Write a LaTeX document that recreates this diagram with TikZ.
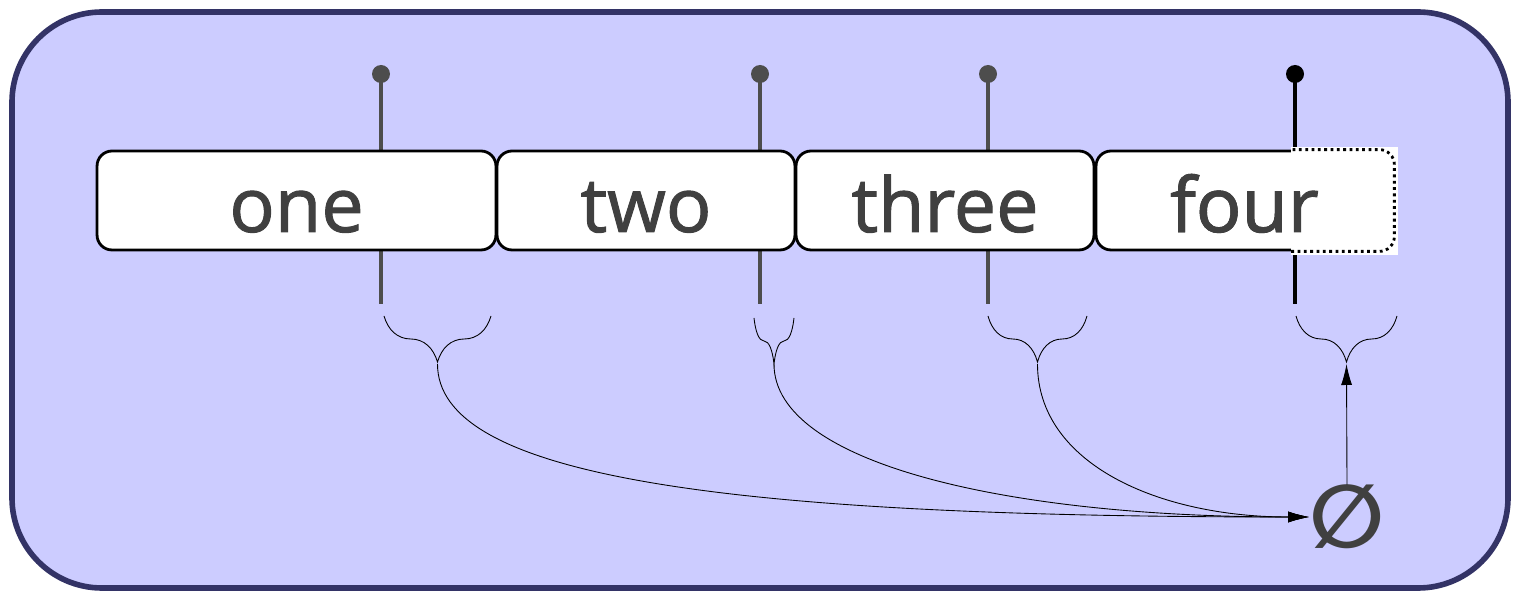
\documentclass[tikz,border=0pt]{standalone}
\usepackage{fontspec}
\setmainfont[FakeBold=1.3]{Open Sans}
\newfontfamily\symfont{DejaVu Sans Bold}
\usetikzlibrary{decorations.pathreplacing,arrows.meta}
\definecolor{frame}{HTML}{333366}
\definecolor{bgfill}{HTML}{CCCCFF}
\definecolor{txt}{HTML}{404040}
\definecolor{stemgray}{HTML}{4D4D4D}
\tikzset{
  cell/.style={draw=black, line width=1.6pt, fill=white, rounded corners=0.3cm,
    minimum height=1.98cm, inner sep=0pt, text=txt, text height=1.26cm, text depth=0pt,
    font=\fontsize{43}{48}\selectfont},
  stemline/.style={line width=2pt},
  bracepath/.style={decorate, decoration={brace, mirror, amplitude=0.92cm}, line width=0.5pt},
  conn/.style={line width=0.5pt, -{Latex[length=0.42cm,width=0.22cm]}}
}
\begin{document}
\begin{tikzpicture}[x=0.02cm,y=-0.02cm]
\useasboundingbox (0,0) rectangle (1516,594);
\draw[frame, fill=bgfill, line width=3.2pt, rounded corners=1.8cm] (12,12) rectangle (1508,588);
% stems
\foreach \x/\c in {381/stemgray,760/stemgray,988/stemgray,1295/black}{
  \draw[stemline,\c] (\x,74) -- (\x,304);
  \fill[\c] (\x,74) circle (0.18cm);
}
% boxes
\node[cell, minimum width=7.98cm] (one) at (296.5,200.5) {one};
\node[cell, minimum width=5.96cm] (two) at (646,200.5) {two};
\node[cell, minimum width=5.96cm] (three) at (945,200.5) {three};
\node[cell, minimum width=5.94cm] (four) at (1244.5,200.5) {four};
\fill[white] (1291,147) rectangle (1398,255);
\begin{scope}
  \clip (1291,140) rectangle (1400,260);
  \draw[dotted, line width=1.6pt, rounded corners=0.3cm] (four.south west) rectangle (four.north east);
\end{scope}
\node[text=txt, inner sep=0pt, text height=1.26cm, text depth=0pt, font=\fontsize{43}{48}\selectfont] at (four.center) {four};
% braces
\draw[bracepath] (384,316) -- (491,316);
\draw[bracepath] (754,318) -- (794,318);
\draw[bracepath] (988,316) -- (1087,316);
\draw[bracepath] (1296,316) -- (1397,316);
\coordinate (t1) at (437.5,364);
\coordinate (t2) at (774,364);
\coordinate (t3) at (1037.5,364);
\coordinate (t4) at (1346.5,364);
% empty set
\node[text=txt, inner sep=0pt, font=\symfont\fontsize{50}{55}\selectfont] (empty) at (1347,517) {∅};
\draw[conn] (t1) .. controls +(0,110) and +(-600,0) .. (empty.west);
\draw[conn] (t2) .. controls +(0,100) and +(-300,0) .. (empty.west);
\draw[conn] (t3) .. controls +(0,100) and +(-150,0) .. (empty.west);
\draw[conn] (empty.north) -- (t4);
\end{tikzpicture}
\end{document}
